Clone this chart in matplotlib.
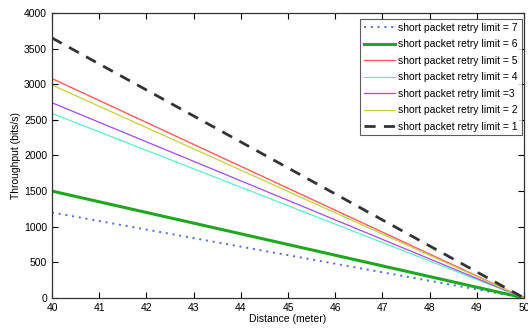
import matplotlib
matplotlib.use('Agg')
import matplotlib.pyplot as plt
import numpy as np

plt.rcParams['font.family'] = ['Liberation Sans', 'DejaVu Sans']

# distance range (meter)
distance = [40, 50]

# throughput at 40 m and 50 m for each retry limit
retry_labels = ['short packet retry limit = 7', 'short packet retry limit = 6',
                'short packet retry limit = 5', 'short packet retry limit = 4',
                'short packet retry limit =3', 'short packet retry limit = 2',
                'short packet retry limit = 1']
thr_7 = [1200, 0]
thr_6 = [1500, 0]
thr_5 = [3080, 0]
thr_4 = [2590, 0]
thr_3 = [2740, 0]
thr_2 = [2990, 0]
thr_1 = [3650, 0]

series = [thr_7, thr_6, thr_5, thr_4, thr_3, thr_2, thr_1]
styles = [
    dict(color='#4a6af0', ls=(0, (1, 2.5)), lw=1.4),
    dict(color='#1fa81f', ls='-', lw=2.2),
    dict(color='#ff5c5c', ls='-', lw=1.0),
    dict(color='#5ef0c8', ls='-', lw=0.9),
    dict(color='#a64af0', ls='-', lw=0.9),
    dict(color='#c8d040', ls='-', lw=0.9),
    dict(color='#333333', ls=(0, (4, 3)), lw=2.0),
]

fig = plt.figure(figsize=(5.28, 3.34), dpi=100)
ax = fig.add_axes([0.0985, 0.108, 0.894, 0.853])

for vals, lab, st in zip(series, retry_labels, styles):
    ax.plot(distance, vals, label=lab, color=st['color'], linestyle=st['ls'], linewidth=st['lw'])

ax.set_xlim(40, 50)
ax.set_ylim(0, 4000)
ax.set_xticks(np.arange(40, 51, 1))
ax.set_yticks(np.arange(0, 4001, 500))
ax.tick_params(direction='in', top=True, right=True, labelsize=7.5, length=4, width=0.8)
for s in ax.spines.values():
    s.set_linewidth(0.9)
    s.set_color('#333333')
ax.set_xlabel('Distance (meter)', fontsize=7.5, labelpad=1)
ax.set_ylabel('Throughput (bits/s)', fontsize=7.5, labelpad=2)

leg = ax.legend(loc='upper right', fontsize=7.5, frameon=True, fancybox=False,
                handlelength=3.0, handletextpad=0.3, labelspacing=0.62,
                borderpad=0.35, borderaxespad=0.0, bbox_to_anchor=(0.995, 0.978))
leg.get_frame().set_edgecolor('#333333')
leg.get_frame().set_linewidth(0.8)

plt.savefig('out.png', dpi=100)
